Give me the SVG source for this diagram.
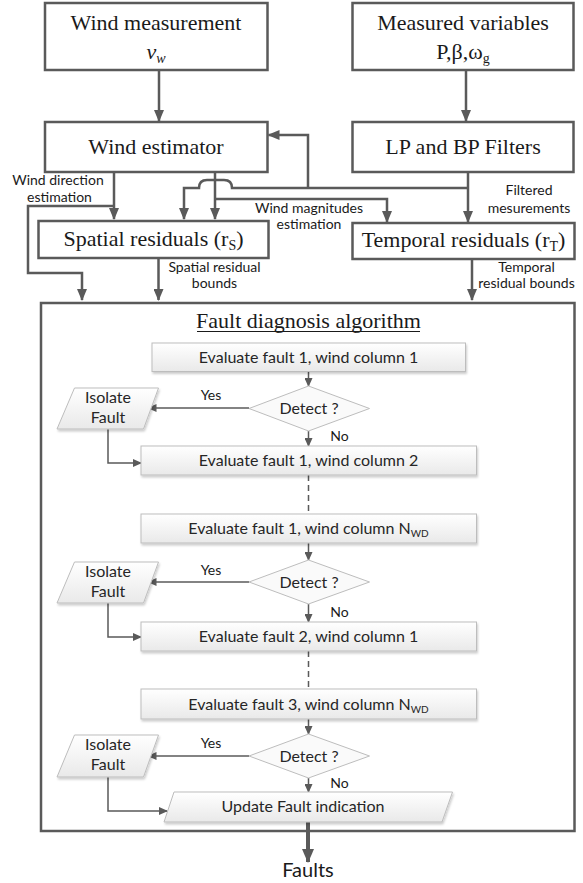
<svg xmlns="http://www.w3.org/2000/svg" width="583" height="883" viewBox="0 0 583 883">
<style>
.mbox{fill:#fff;stroke:#5a5a5a;stroke-width:2.5}
.ser{font-family:"Liberation Serif","Times New Roman",serif;font-size:22px;fill:#1a1a1a;text-anchor:middle}
.lbl{font-family:Lato,"Liberation Sans",sans-serif;font-size:14px;fill:#1a1a1a;text-anchor:middle}
.ib{fill:url(#g);stroke:#bdbdbd;stroke-width:1;filter:url(#sh)}
.it{font-family:Lato,"Liberation Sans",sans-serif;font-size:16px;fill:#262626;text-anchor:middle}
.big{font-family:Lato,"Liberation Sans",sans-serif;font-size:20px;fill:#1a1a1a;text-anchor:middle}
.mc{fill:none;stroke:#5a5a5a;stroke-width:2.5;marker-end:url(#ab)}
.ic{fill:none;stroke:#5a5a5a;stroke-width:1.5;marker-end:url(#as)}
.dash{fill:none;stroke:#5a5a5a;stroke-width:1.5;stroke-dasharray:6,4}
.dia{fill:#fafafa;stroke:#bdbdbd;stroke-width:1}
</style>
<defs>
<linearGradient id="g" x1="0" y1="0" x2="0" y2="1"><stop offset="0" stop-color="#ffffff"/><stop offset="1" stop-color="#e9e9e9"/></linearGradient>
<filter id="sh" x="-10%" y="-20%" width="120%" height="150%"><feDropShadow dx="1" dy="2" stdDeviation="1" flood-color="#000" flood-opacity="0.2"/></filter>
<marker id="ab" viewBox="0 0 12 10" markerWidth="12" markerHeight="10" refX="11" refY="5" orient="auto" markerUnits="userSpaceOnUse"><path d="M0,0 L12,5 L0,10 z" fill="#5a5a5a"/></marker>
<marker id="as" viewBox="0 0 9 8" markerWidth="9" markerHeight="8" refX="8" refY="4" orient="auto" markerUnits="userSpaceOnUse"><path d="M0,0 L9,4 L0,8 z" fill="#5a5a5a"/></marker>
<marker id="at" viewBox="0 0 14 12" markerWidth="14" markerHeight="12" refX="13" refY="6" orient="auto" markerUnits="userSpaceOnUse"><path d="M0,0 L14,6 L0,12 z" fill="#5a5a5a"/></marker>
</defs>

<g id="outer">
<rect x="41" y="303" width="533.5" height="528" class="mbox"/>
<text x="308.5" y="328" class="ser">Fault diagnosis algorithm</text>
<line x1="197" y1="331.5" x2="420" y2="331.5" stroke="#1a1a1a" stroke-width="1"/>
</g>

<g id="wind-measurement">
<rect x="45" y="3" width="222.5" height="67" class="mbox"/>
<text x="156" y="30" class="ser">Wind measurement</text>
<text x="156" y="59" class="ser" font-style="italic">v<tspan font-size="14" dy="4">w</tspan></text>
</g>
<g id="measured-variables">
<rect x="352.5" y="3" width="221" height="67" class="mbox"/>
<text x="463" y="30" class="ser">Measured variables</text>
<text x="463" y="59" class="ser">P,β,ω<tspan font-size="14" dy="4">g</tspan></text>
</g>
<g id="wind-estimator">
<rect x="45" y="122" width="222.5" height="50" class="mbox"/>
<text x="156" y="154" class="ser">Wind estimator</text>
</g>
<g id="filters">
<rect x="352.5" y="122" width="221" height="50" class="mbox"/>
<text x="463" y="154" class="ser">LP and BP Filters</text>
</g>
<g id="spatial">
<rect x="38.5" y="221" width="230" height="37" class="mbox"/>
<text x="153.5" y="246" class="ser">Spatial residuals (r<tspan font-size="14" dy="4">S</tspan><tspan dy="-4">)</tspan></text>
</g>
<g id="temporal">
<rect x="352.5" y="223" width="222" height="36" class="mbox"/>
<text x="463.5" y="247" class="ser">Temporal residuals (r<tspan font-size="14" dy="4">T</tspan><tspan dy="-4">)</tspan></text>
</g>

<g id="connectors">
<path d="M159,70 V121" class="mc"/>
<path d="M466,70 V121" class="mc"/>
<path d="M114,172 V219" class="mc"/>
<path d="M114,206 H28 V273 H82 V300" class="mc"/>
<path d="M215,172 V219" class="mc"/>
<path d="M215,199 H387 V222" class="mc"/>
<path d="M468,172 V222" class="mc"/>
<path d="M468,188 H232 Q232,180 224,180 H207 Q199,180 199,188 H184 V219" class="mc"/>
<path d="M308,188 V135 H268.5" class="mc"/>
<path d="M158.5,258 V300" class="mc"/>
<path d="M472,259 V300" class="mc"/>
<path d="M308,822 V862" fill="none" stroke="#5a5a5a" stroke-width="4" marker-end="url(#at)"/>

<path d="M308.5,372 V386" class="ic"/>
<path d="M249,408 H148.5" class="ic"/>
<path d="M308.5,431 V446" class="ic"/>
<path d="M108,429 V463 H141" class="ic"/>
<path d="M308.5,475 V514" class="dash"/>
<path d="M308.5,543 V560" class="ic"/>
<path d="M249,582 H148.5" class="ic"/>
<path d="M308.5,604 V622" class="ic"/>
<path d="M108,603 V637 H141" class="ic"/>
<path d="M308.5,651 V689" class="dash"/>
<path d="M308.5,719 V734" class="ic"/>
<path d="M249,756 H148.5" class="ic"/>
<path d="M308.5,778 V792" class="ic"/>
<path d="M108,777 V811 H167" class="ic"/>
</g>

<g id="labels">
<text x="58" y="185" class="lbl">Wind direction</text>
<text x="59.5" y="202" class="lbl">estimation</text>
<text x="309" y="213" class="lbl">Wind magnitudes</text>
<text x="309" y="229" class="lbl">estimation</text>
<text x="529" y="195" class="lbl">Filtered</text>
<text x="529" y="213" class="lbl">mesurements</text>
<text x="214.5" y="272" class="lbl">Spatial residual</text>
<text x="214.5" y="288" class="lbl">bounds</text>
<text x="526.5" y="272" class="lbl">Temporal</text>
<text x="526.5" y="288" class="lbl">residual bounds</text>
<text x="211" y="400" class="lbl">Yes</text>
<text x="339.5" y="441" class="lbl">No</text>
<text x="211" y="575" class="lbl">Yes</text>
<text x="339.5" y="617" class="lbl">No</text>
<text x="211" y="748" class="lbl">Yes</text>
<text x="339.5" y="788" class="lbl">No</text>
</g>

<g id="eval-f1-c1"><rect x="152" y="343" width="313.5" height="28.5" class="ib"/><text x="308.5" y="363" class="it">Evaluate fault 1, wind column 1</text></g>
<g id="detect-1"><path d="M308.5,386 L369.5,408.5 L308.5,431 L249,408.5 Z" class="dia"/><text x="309" y="414" class="it">Detect ?</text></g>
<g id="isolate-1"><path d="M74.5,388 H158.5 L143.5,429 H57 Z" class="ib"/><text x="108" y="403" class="it">Isolate</text><text x="108" y="423" class="it">Fault</text></g>
<g id="eval-f1-c2"><rect x="141" y="446" width="335.5" height="29" class="ib"/><text x="308.5" y="466" class="it">Evaluate fault 1, wind column 2</text></g>
<g id="eval-f1-cn"><rect x="141" y="514" width="335.5" height="29" class="ib"/><text x="308.5" y="534" class="it">Evaluate fault 1, wind column N<tspan font-size="10" dy="3">WD</tspan></text></g>
<g id="detect-2"><path d="M308.5,560 L369.5,582 L308.5,604 L249,582 Z" class="dia"/><text x="309" y="588" class="it">Detect ?</text></g>
<g id="isolate-2"><path d="M74.5,562 H158.5 L143.5,603 H57 Z" class="ib"/><text x="108" y="577" class="it">Isolate</text><text x="108" y="597" class="it">Fault</text></g>
<g id="eval-f2-c1"><rect x="141" y="622" width="335.5" height="29" class="ib"/><text x="308.5" y="642" class="it">Evaluate fault 2, wind column 1</text></g>
<g id="eval-f3-cn"><rect x="141" y="689" width="335.5" height="30" class="ib"/><text x="308.5" y="710" class="it">Evaluate fault 3, wind column N<tspan font-size="10" dy="3">WD</tspan></text></g>
<g id="detect-3"><path d="M308.5,734 L369.5,756 L308.5,778 L249,756 Z" class="dia"/><text x="309" y="762" class="it">Detect ?</text></g>
<g id="isolate-3"><path d="M74.5,735 H158.5 L143.5,777 H57 Z" class="ib"/><text x="108" y="750" class="it">Isolate</text><text x="108" y="770" class="it">Fault</text></g>
<g id="update"><path d="M174,792 H452.5 L442,822 H164 Z" class="ib"/><text x="303" y="812" class="it">Update Fault indication</text></g>
<g id="faults-out"><text x="308" y="877" class="big">Faults</text></g>
</svg>
